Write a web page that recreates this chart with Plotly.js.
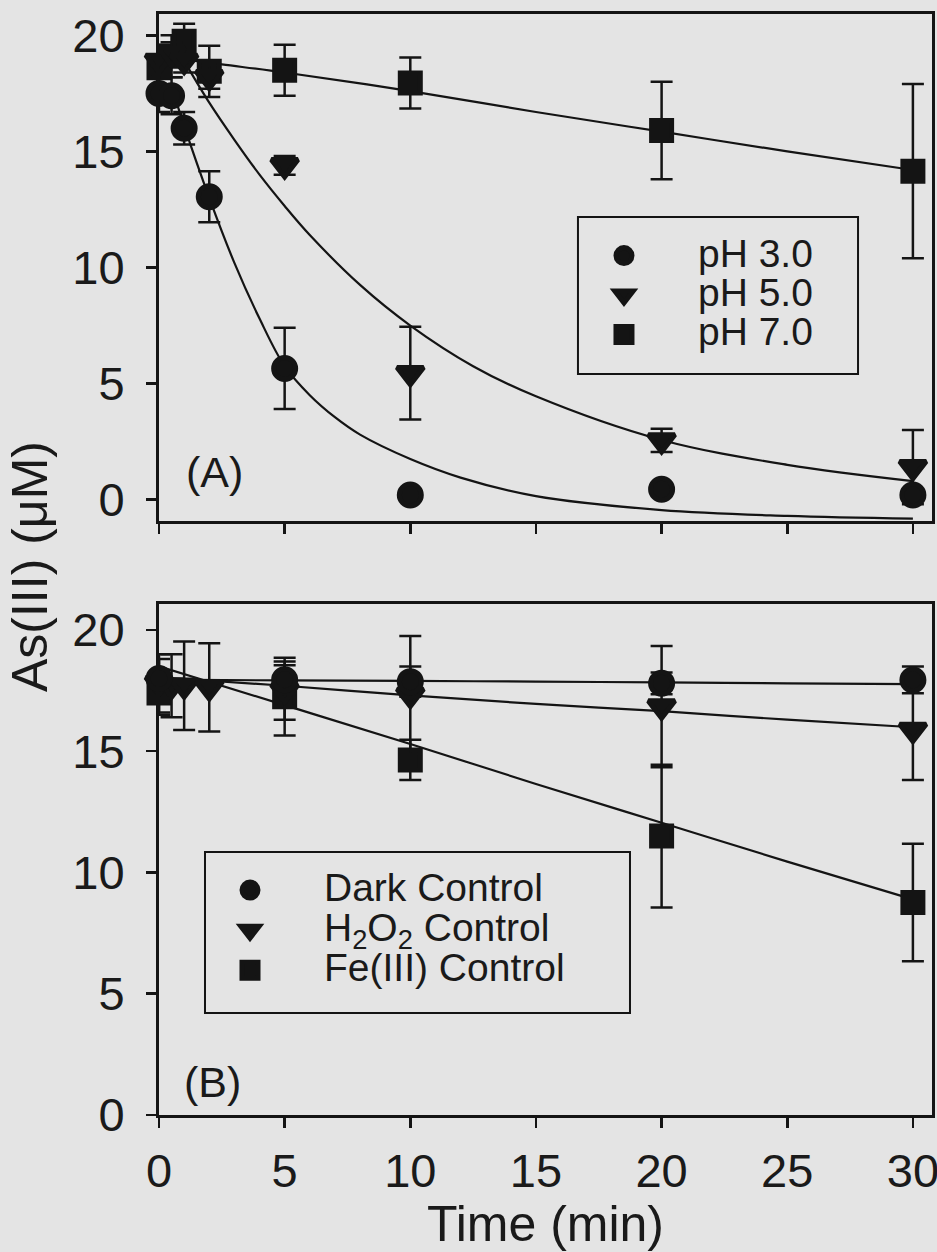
<!DOCTYPE html>
<html>
<head>
<meta charset="utf-8">
<script src="https://cdn.plot.ly/plotly-3.0.1.min.js"></script>
<style>
  html, body { margin: 0; padding: 0; background: #e4e4e4; }
  #chart { width: 937px; height: 1252px; }
</style>
</head>
<body>
<div id="chart"></div>
<script>
// ---------- Panel A data (pH series) ----------
const timeA = [0, 0.5, 1, 2, 5, 10, 20, 30];
const pH3 = [17.5, 17.4, 16.0, 13.05, 5.65, 0.2, 0.45, 0.2];
const pH3Err = [0.8, 0.8, 0.7, 1.1, 1.75, 0.1, 0.1, 0.1];
const pH5 = [18.9, 19.2, 18.9, 18.2, 14.4, 5.45, 2.55, 1.4];
const pH5Err = [0.5, 0.5, 0.5, 0.5, 0.4, 2.0, 0.5, 1.6];
const pH7 = [18.6, 19.1, 19.75, 18.45, 18.5, 17.95, 15.9, 14.15];
const pH7Err = [1.0, 0.9, 0.75, 1.1, 1.1, 1.1, 2.1, 3.75];

// fitted curves
const fitTime3 = [0.5, 1, 2, 3, 4, 5, 6, 7, 8, 10, 12, 15, 20, 25, 30];
const fit3 = [17.8, 16.1, 13.0, 10.2, 7.8, 5.75, 4.5, 3.55, 2.8, 1.75, 0.95, 0.15, -0.45, -0.7, -0.82];
const fitTime5 = [1, 2, 3, 4, 5, 6, 8, 10, 12.5, 15, 20, 25, 30];
const fit5 = [18.9, 17.1, 15.5, 14.0, 12.65, 11.4, 9.25, 7.5, 5.75, 4.45, 2.57, 1.5, 0.8];
const fitTime7 = [0, 2.5, 5, 10, 15, 20, 25, 30];
const fit7 = [19.1, 18.75, 18.4, 17.6, 16.7, 15.85, 15.0, 14.2];

// ---------- Panel B data (controls) ----------
const timeDark = [0, 5, 10, 20, 30];
const darkCtrl = [18.0, 17.95, 17.87, 17.8, 17.94];
const darkErr = [0.8, 0.6, 0.62, 0.45, 0.55];
const timeH2O2 = [0, 0.5, 1, 2, 5, 10, 20, 30];
const h2o2Ctrl = [17.8, 17.7, 17.7, 17.63, 17.5, 17.32, 16.84, 15.88];
const h2o2Err = [1.2, 1.3, 1.82, 1.82, 1.2, 2.43, 2.5, 2.07];
const timeFe = [0, 5, 10, 20, 30];
const feCtrl = [17.4, 17.25, 14.64, 11.5, 8.76];
const feErr = [0.9, 1.6, 0.83, 2.94, 2.42];

const fitTimeB = [0, 5, 10, 15, 20, 25, 30];
const fitDark = [17.95, 17.92, 17.9, 17.87, 17.84, 17.8, 17.77];
const fitH2O2 = [18.05, 17.7, 17.3, 16.95, 16.65, 16.3, 15.99];
const fitFe = [18.5, 16.9, 15.3, 13.65, 12.05, 10.45, 8.89];

// ---------- tick labels / text ----------
const xTicks = [0, 5, 10, 15, 20, 25, 30];
const yTicks = [0, 5, 10, 15, 20];
const namesA = ['pH 3.0', 'pH 5.0', 'pH 7.0'];
const namesB = ['Dark Control', 'H<sub>2</sub>O<sub>2</sub> Control', 'Fe(III) Control'];

// ---------- styling ----------
const INK = '#141414';
const BG = '#e4e4e4';
const FONT = 'Liberation Sans, Arial, Helvetica, sans-serif';
const symbols = ['circle', 'triangle-down', 'square'];
const msize = {'circle': 22, 'triangle-down': 23, 'square': 20};

function lbl(t) { return '<span style="font-size:39px">' + t + '</span>'; }

function pts(x, y, err, sym, name, xa, ya, leg) {
  return {
    type: 'scatter', mode: 'markers', x: x, y: y, name: lbl(name),
    xaxis: xa, yaxis: ya, legend: leg, cliponaxis: false,
    marker: {symbol: sym, size: msize[sym], color: INK, line: {color: INK, width: 5}},
    error_y: {type: 'data', array: err, visible: true, color: INK, thickness: 2.5, width: 11}
  };
}
function fit(x, y, xa, ya) {
  return {
    type: 'scatter', mode: 'lines', x: x, y: y, xaxis: xa, yaxis: ya,
    showlegend: false, hoverinfo: 'skip', cliponaxis: true,
    line: {color: INK, width: 2.2, shape: 'spline', smoothing: 1}
  };
}

const traces = [
  fit(fitTime3, fit3, 'x2', 'y'),
  fit(fitTime5, fit5, 'x2', 'y'),
  fit(fitTime7, fit7, 'x2', 'y'),
  fit(fitTimeB, fitDark, 'x', 'y2'),
  fit(fitTimeB, fitH2O2, 'x', 'y2'),
  fit(fitTimeB, fitFe, 'x', 'y2'),
  pts(timeA, pH7, pH7Err, symbols[2], namesA[2], 'x2', 'y', 'legend'),
  pts(timeA, pH5, pH5Err, symbols[1], namesA[1], 'x2', 'y', 'legend'),
  pts(timeA, pH3, pH3Err, symbols[0], namesA[0], 'x2', 'y', 'legend'),
  pts(timeFe, feCtrl, feErr, symbols[2], namesB[2], 'x', 'y2', 'legend2'),
  pts(timeH2O2, h2o2Ctrl, h2o2Err, symbols[1], namesB[1], 'x', 'y2', 'legend2'),
  pts(timeDark, darkCtrl, darkErr, symbols[0], namesB[0], 'x', 'y2', 'legend2')
];

const axisCommon = {
  showline: true, linecolor: INK, linewidth: 3, mirror: true,
  ticks: 'outside', ticklen: 10, tickwidth: 2.5, tickcolor: INK,
  showgrid: false, zeroline: false, fixedrange: true,
  tickfont: {family: FONT, size: 47, color: '#1a1a1a'}
};

const layout = {
  width: 937, height: 1252,
  margin: {l: 159, r: 5, t: 14, b: 137},
  paper_bgcolor: BG, plot_bgcolor: BG,
  font: {family: FONT, color: '#1a1a1a'},
  xaxis: Object.assign({}, axisCommon, {
    domain: [0, 1], anchor: 'y2', range: [0, 30.76],
    tickvals: xTicks, ticktext: xTicks.map(String), ticklabelstandoff: 3,
    ticklabeloverflow: 'allow',
    title: {text: 'Time (min)', font: {family: FONT, size: 50, color: '#1a1a1a'}, standoff: 20}
  }),
  xaxis2: Object.assign({}, axisCommon, {
    domain: [0, 1], anchor: 'y', range: [0, 30.76], matches: 'x',
    tickvals: xTicks, showticklabels: false
  }),
  yaxis: Object.assign({}, axisCommon, {
    domain: [0.5395, 1], anchor: 'x2', range: [-0.92, 20.92],
    tickvals: yTicks, ticktext: yTicks.map(String), ticklabelstandoff: 12
  }),
  yaxis2: Object.assign({}, axisCommon, {
    domain: [0, 0.4641], anchor: 'x', range: [0, 21.07],
    tickvals: yTicks, ticktext: yTicks.map(String), ticklabelstandoff: 12
  }),
  legend: {
    x: 0.5058, y: 0.803, xanchor: 'left', yanchor: 'top',
    bgcolor: 'rgba(0,0,0,0)', borderwidth: 0, itemwidth: 138,
    traceorder: 'reversed',
    font: {family: FONT, size: 28, color: '#1a1a1a'}
  },
  legend2: {
    x: 0.022, y: 0.227, xanchor: 'left', yanchor: 'top',
    bgcolor: 'rgba(0,0,0,0)', borderwidth: 0, itemwidth: 138,
    traceorder: 'reversed',
    font: {family: FONT, size: 28.5, color: '#1a1a1a'}
  },
  shapes: [
    {type: 'rect', xref: 'paper', yref: 'paper', x0: 0.542, x1: 0.9043, y0: 0.673, y1: 0.8156,
     line: {color: INK, width: 2}, fillcolor: 'rgba(0,0,0,0)', layer: 'above'},
    {type: 'rect', xref: 'paper', yref: 'paper', x0: 0.0595, x1: 0.6093, y0: 0.0926, y1: 0.2389,
     line: {color: INK, width: 2}, fillcolor: 'rgba(0,0,0,0)', layer: 'above'}
  ],
  annotations: [
    {text: '(A)', xref: 'paper', yref: 'paper', x: 0.0712, y: 0.584, showarrow: false,
     xanchor: 'center', yanchor: 'middle', font: {family: FONT, size: 43, color: '#1a1a1a'}},
    {text: '(B)', xref: 'paper', yref: 'paper', x: 0.0686, y: 0.030, showarrow: false,
     xanchor: 'center', yanchor: 'middle', font: {family: FONT, size: 43, color: '#1a1a1a'}},
    {text: 'As(III) (\u03bcM)', xref: 'paper', yref: 'paper', x: -0.1669, y: 0.4986, showarrow: false,
     textangle: -90, xanchor: 'center', yanchor: 'middle', font: {family: FONT, size: 50, color: '#1a1a1a'}}
  ],
  showlegend: true
};

Plotly.newPlot('chart', traces, layout, {displayModeBar: false, staticPlot: true});
</script>
</body>
</html>
